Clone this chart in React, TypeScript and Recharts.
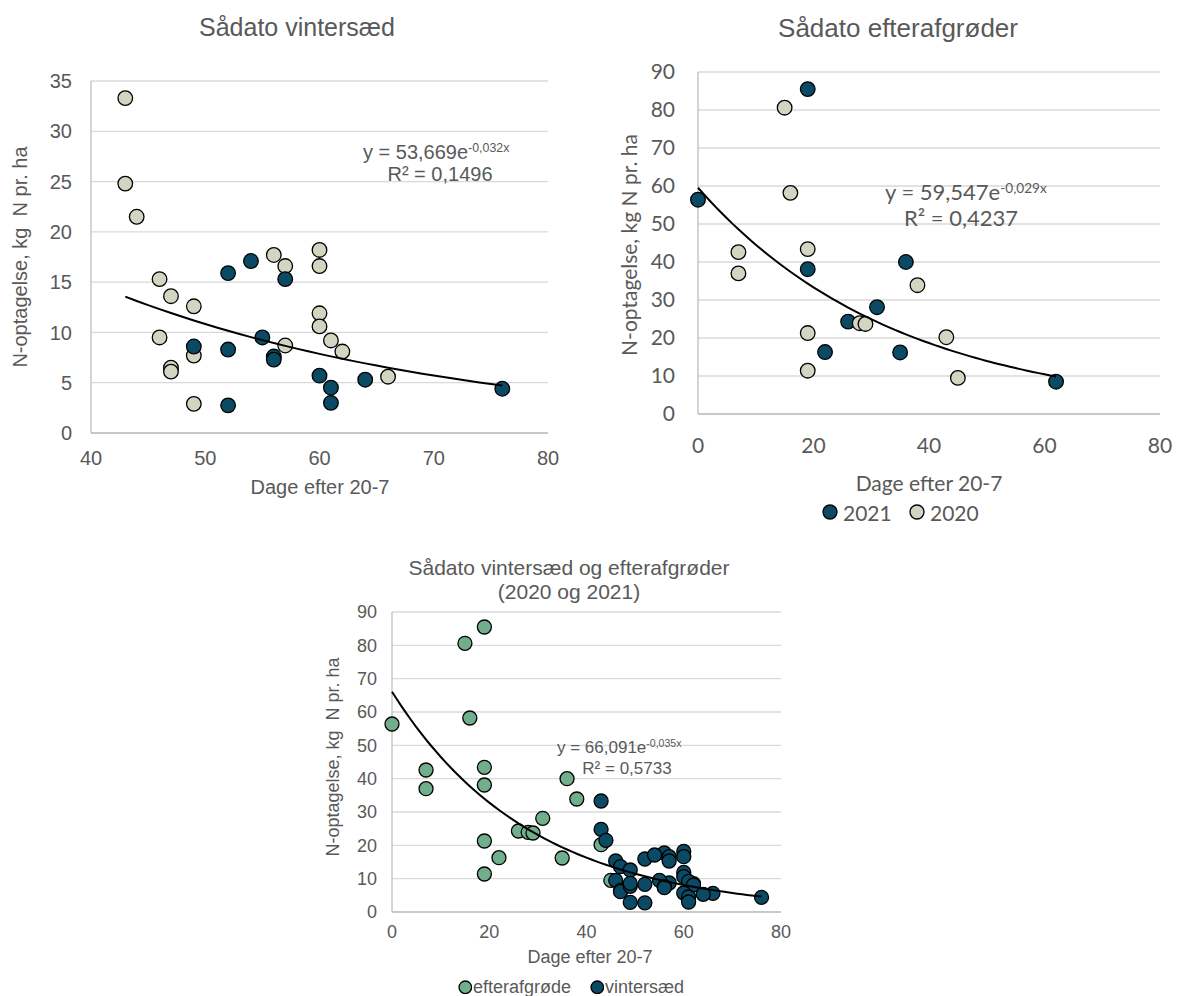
import React from 'react';
import { ScatterChart, Scatter, XAxis, YAxis, CartesianGrid } from 'recharts';

// ---------- data ----------
// Sådato vintersæd
const vinter2020X = [43, 43, 44, 46, 47, 49, 46, 47, 47, 49, 49, 56, 57, 57, 60, 60, 60, 60, 61, 62, 66];
const vinter2020Y = [33.3, 24.8, 21.5, 15.3, 13.6, 12.6, 9.5, 6.5, 6.1, 7.7, 2.9, 17.7, 16.6, 8.7, 18.2, 16.6, 11.9, 10.6, 9.2, 8.1, 5.6];
const vinter2021X = [52, 54, 57, 55, 49, 52, 56, 56, 60, 61, 61, 64, 76, 52];
const vinter2021Y = [15.9, 17.1, 15.3, 9.5, 8.6, 8.3, 7.6, 7.3, 5.7, 4.5, 3.0, 5.3, 4.4, 2.75];

// Sådato efterafgrøder
const efter2021X = [19, 0, 19, 36, 31, 26, 22, 35, 62];
const efter2021Y = [85.5, 56.4, 38.1, 40.0, 28.1, 24.3, 16.3, 16.2, 8.5];
const efter2020X = [15, 16, 7, 7, 19, 19, 19, 28, 29, 38, 43, 45];
const efter2020Y = [80.6, 58.2, 42.6, 37.0, 43.4, 21.3, 11.4, 23.9, 23.7, 33.9, 20.2, 9.5];

// trendlines (exponential, coefficients as printed on the chart)
const trendVinter = { a: 53.669, k: -0.032, from: 43, to: 76 };
const trendEfter = { a: 59.547, k: -0.029, from: 0, to: 62 };
const trendAlle = { a: 66.091, k: -0.035, from: 0, to: 76 };

// ticks
const ticksX1 = [40, 50, 60, 70, 80];
const ticksY1 = [0, 5, 10, 15, 20, 25, 30, 35];
const ticksX2 = [0, 20, 40, 60, 80];
const ticksY2 = [0, 10, 20, 30, 40, 50, 60, 70, 80, 90];

// ---------- styles ----------
const GRAY = '#595959';
const DARK = '#0B4A64';
const BEIGE = '#D4D4C2';
const GREEN = '#70AE8C';
const ARIAL = '"Liberation Sans", Arial, sans-serif';
const CAL = 'Lato, "Open Sans", sans-serif';

const toPts = (xs: number[], ys: number[]) => xs.map((x, i) => ({ x, y: ys[i] }));
const trendPts = (t: { a: number; k: number; from: number; to: number }) => {
  const p: { x: number; y: number }[] = [];
  for (let x = t.from; x <= t.to; x += 1) p.push({ x, y: t.a * Math.exp(t.k * x) });
  return p;
};

type Series = { name: string; data: { x: number; y: number }[]; color: string };

function Panel(props: any) {
  const {
    left, top, width, height, margin, xDomain, xTicks, yDomain, yTicks, yWidth, xHeight,
    font, fontSize, yTickMargin, xTickMargin, series, trend, r,
  } = props;
  const tick = { fill: GRAY, fontSize, fontFamily: font };
  return (
    <div style={{ position: 'absolute', left, top }}>
      <ScatterChart width={width} height={height} margin={margin}>
        <CartesianGrid vertical={false} stroke="#D9D9D9" strokeWidth={1.3} />
        <XAxis
          type="number"
          dataKey="x"
          domain={xDomain}
          ticks={xTicks}
          interval={0}
          tickLine={false}
          axisLine={{ stroke: '#BFBFBF', strokeWidth: 1.3 }}
          tick={tick}
          tickMargin={xTickMargin}
          height={xHeight}
        />
        <YAxis
          type="number"
          dataKey="y"
          domain={yDomain}
          ticks={yTicks}
          interval={0}
          tickLine={false}
          axisLine={{ stroke: '#BFBFBF', strokeWidth: 1.3 }}
          tick={tick}
          tickMargin={yTickMargin}
          width={yWidth}
        />
        {series.map((s: Series) => (
          <Scatter
            key={s.name}
            name={s.name}
            data={s.data}
            fill={s.color}
            isAnimationActive={false}
            shape={(p: any) => (
              <circle cx={p.cx} cy={p.cy} r={r} fill={s.color} stroke="#000" strokeWidth={1.3} />
            )}
          />
        ))}
        <Scatter
          name="trend"
          data={trend}
          line={{ stroke: '#000', strokeWidth: 2 }}
          lineType="joint"
          legendType="none"
          isAnimationActive={false}
          shape={() => <g />}
        />
      </ScatterChart>
    </div>
  );
}

function T(props: any) {
  const { x, y, size, font = ARIAL, anchor = 'middle', rotate = false, children, color = GRAY } = props;
  let transform = anchor === 'middle' ? 'translate(-50%,-50%)' : 'translate(0,-50%)';
  if (rotate) transform = 'translate(-50%,-50%) rotate(-90deg)';
  return (
    <div
      style={{
        position: 'absolute', left: x, top: y, transform, fontSize: size, fontFamily: font,
        color, whiteSpace: 'pre', lineHeight: 1,
      }}
    >
      {children}
    </div>
  );
}

function Marker({ x, y, r, color }: any) {
  return (
    <svg style={{ position: 'absolute', left: x - r - 1, top: y - r - 1 }} width={2 * r + 2} height={2 * r + 2}>
      <circle cx={r + 1} cy={r + 1} r={r} fill={color} stroke="#000" strokeWidth={1.3} />
    </svg>
  );
}

export default function App() {
  const v2020 = toPts(vinter2020X, vinter2020Y);
  const v2021 = toPts(vinter2021X, vinter2021Y);
  const e2021 = toPts(efter2021X, efter2021Y);
  const e2020 = toPts(efter2020X, efter2020Y);
  const sup = { fontSize: '0.62em', verticalAlign: '0.55em' };

  return (
    <div style={{ position: 'absolute', left: 0, top: 0, width: 1177, height: 996, background: '#fff', overflow: 'hidden' }}>
      {/* Chart 1 */}
      <Panel
        left={0} top={0} width={560} height={500}
        margin={{ top: 81, right: 12, bottom: 37, left: 0 }}
        xDomain={[40, 80]} xTicks={ticksX1} yDomain={[0, 35]} yTicks={ticksY1}
        yWidth={91} xHeight={30} font={ARIAL} fontSize={20} yTickMargin={13} xTickMargin={12}
        series={[
          { name: '2020', data: v2020, color: BEIGE },
          { name: '2021', data: v2021, color: DARK },
        ]}
        trend={trendPts(trendVinter)} r={7.3}
      />
      <T x={297} y={27} size={25}>Sådato vintersæd</T>
      <T x={320} y={487} size={20}>Dage efter 20-7</T>
      <T x={20} y={257} size={20} rotate>{'N-optagelse, kg  N pr. ha'}</T>
      <T x={363} y={152} size={20} anchor="start">y = 53,669e<span style={sup}>-0,032x</span></T>
      <T x={440} y={174} size={20}>R² = 0,1496</T>

      {/* Chart 2 */}
      <Panel
        left={600} top={50} width={577} height={480}
        margin={{ top: 22, right: 17, bottom: 76, left: 0 }}
        xDomain={[0, 80]} xTicks={ticksX2} yDomain={[0, 90]} yTicks={ticksY2}
        yWidth={98} xHeight={40} font={CAL} fontSize={21} yTickMargin={17} xTickMargin={18}
        series={[
          { name: '2021', data: e2021, color: DARK },
          { name: '2020', data: e2020, color: BEIGE },
        ]}
        trend={trendPts(trendEfter)} r={7.3}
      />
      <T x={898} y={28} size={26}>Sådato efterafgrøder</T>
      <T x={929} y={482} size={21} font={CAL}>Dage efter 20-7</T>
      <T x={628} y={245} size={21} font={CAL} rotate>N-optagelse, kg N pr. ha</T>
      <T x={885} y={192} size={22} font={CAL} anchor="start">y = 59,547e<span style={sup}>-0,029x</span></T>
      <T x={961} y={218} size={22} font={CAL}>R² = 0,4237</T>
      <Marker x={830} y={512} r={7} color={DARK} />
      <T x={843} y={512} size={21} font={CAL} anchor="start">2021</T>
      <Marker x={917} y={512} r={7} color={BEIGE} />
      <T x={930} y={512} size={21} font={CAL} anchor="start">2020</T>

      {/* Chart 3 */}
      <Panel
        left={300} top={540} width={500} height={456}
        margin={{ top: 72, right: 19, bottom: 44, left: 0 }}
        xDomain={[0, 80]} xTicks={ticksX2} yDomain={[0, 90]} yTicks={ticksY2}
        yWidth={92} xHeight={40} font={ARIAL} fontSize={18} yTickMargin={9} xTickMargin={7}
        series={[
          { name: 'efterafgrøde', data: [...e2021, ...e2020], color: GREEN },
          { name: 'vintersæd', data: [...v2020, ...v2021], color: DARK },
        ]}
        trend={trendPts(trendAlle)} r={7}
      />
      <T x={569} y={567} size={21}>Sådato vintersæd og efterafgrøder</T>
      <T x={569} y={591} size={21}>(2020 og 2021)</T>
      <T x={590} y={957} size={18}>Dage efter 20-7</T>
      <T x={333} y={757} size={18} rotate>{'N-optagelse, kg  N pr. ha'}</T>
      <T x={557} y={747} size={17} anchor="start">y = 66,091e<span style={sup}>-0,035x</span></T>
      <T x={627} y={768} size={17}>R² = 0,5733</T>
      <Marker x={465} y={987} r={6.3} color={GREEN} />
      <T x={473} y={987} size={18} anchor="start">efterafgrøde</T>
      <Marker x={597} y={987} r={6.3} color={DARK} />
      <T x={605} y={987} size={18} anchor="start">vintersæd</T>
    </div>
  );
}
